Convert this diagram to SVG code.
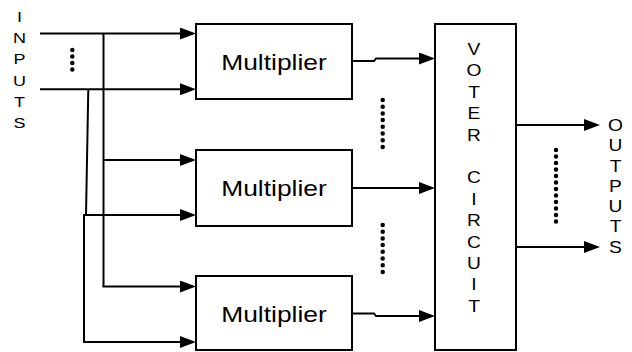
<svg xmlns="http://www.w3.org/2000/svg" width="632" height="352" viewBox="0 0 632 352">
  <defs>
    <style>
      .box { fill: #ffffff; stroke: #000000; stroke-width: 2; }
      .wire { fill: none; stroke: #000000; stroke-width: 2; }
      .arrow { fill: none; stroke: #000000; stroke-width: 2; marker-end: url(#head); }
      .dots { fill: none; stroke: #000000; stroke-width: 4.5; stroke-linecap: round; }
      .label { font-family: "Liberation Sans", Arial, sans-serif; fill: #000000; text-anchor: middle; }
      .big { font-size: 22px; }
      .small { font-size: 15px; }
      .mid { font-size: 16px; }
    </style>
    <marker id="head" viewBox="0 0 16 12" refX="2" refY="6" markerWidth="16" markerHeight="12" markerUnits="userSpaceOnUse" orient="auto">
      <path d="M0,0 L16,6 L0,12 Z" fill="#000000"/>
    </marker>
  </defs>

  <rect width="632" height="352" fill="#ffffff"/>

  <!-- input column label -->
  <g id="inputs-label" class="label small" transform="translate(19.5,0) scale(1.2,1)">
    <text x="0" y="21.8">I</text>
    <text x="0" y="43">N</text>
    <text x="0" y="64.2">P</text>
    <text x="0" y="85.6">U</text>
    <text x="0" y="106.9">T</text>
    <text x="0" y="128">S</text>
  </g>

  <!-- connectors -->
  <g id="connectors">
    <!-- primary inputs -->
    <path class="arrow" d="M40,33.5 H182"/>
    <path class="arrow" d="M40,89.3 H182"/>
    <!-- fan-out of the first input -->
    <path class="wire" d="M103.5,33.5 V286.5"/>
    <path class="arrow" d="M103.5,160 H182"/>
    <path class="arrow" d="M102.5,286.5 H182"/>
    <!-- fan-out of the last input -->
    <path class="wire" d="M88.3,89.3 L86,215"/>
    <path class="arrow" d="M84,215 H182"/>
    <path class="wire" d="M84,214 V342"/>
    <path class="arrow" d="M83,342 H182"/>
    <!-- multiplier outputs to voter -->
    <path class="arrow" d="M352,61 H374 L376,58.5 H421"/>
    <path class="arrow" d="M352,188 H421"/>
    <path class="arrow" d="M352,313.5 H374 L376,316 H421"/>
    <!-- voter outputs -->
    <path class="arrow" d="M516,125 H586"/>
    <path class="arrow" d="M516,247 H586"/>
  </g>

  <!-- ellipsis markers -->
  <path class="dots" d="M72.3,50 V69.6" stroke-dasharray="0 6.5"/>
  <path class="dots" d="M382.7,100 V147" stroke-dasharray="0 6.7"/>
  <path class="dots" d="M382.7,225 V272" stroke-dasharray="0 6.7"/>
  <path class="dots" d="M556,150 V221.6" stroke-dasharray="0 6.5"/>

  <!-- multipliers -->
  <g id="multiplier-1">
    <rect class="box" x="196" y="24" width="156" height="75"/>
    <text class="label big" transform="translate(274,69.5) scale(1.2,1)">Multiplier</text>
  </g>
  <g id="multiplier-2">
    <rect class="box" x="196" y="150" width="156" height="76"/>
    <text class="label big" transform="translate(274,196) scale(1.2,1)">Multiplier</text>
  </g>
  <g id="multiplier-3">
    <rect class="box" x="196" y="276" width="156" height="74"/>
    <text class="label big" transform="translate(274,321.5) scale(1.2,1)">Multiplier</text>
  </g>

  <!-- voter -->
  <g id="voter">
    <rect class="box" x="435" y="24" width="81" height="326"/>
    <g class="label mid" transform="translate(474,0) scale(1.2,1)">
      <text x="0" y="55">V</text>
      <text x="0" y="76.4">O</text>
      <text x="0" y="97.8">T</text>
      <text x="0" y="119.2">E</text>
      <text x="0" y="140.6">R</text>
      <text x="0" y="183.4">C</text>
      <text x="0" y="204.8">I</text>
      <text x="0" y="226.2">R</text>
      <text x="0" y="247.6">C</text>
      <text x="0" y="269">U</text>
      <text x="0" y="290.4">I</text>
      <text x="0" y="311.8">T</text>
    </g>
  </g>

  <!-- output column label -->
  <g id="outputs-label" class="label mid" transform="translate(615.5,0) scale(1.2,1)">
    <text x="0" y="131">O</text>
    <text x="0" y="151.3">U</text>
    <text x="0" y="171.6">T</text>
    <text x="0" y="191.9">P</text>
    <text x="0" y="212.2">U</text>
    <text x="0" y="232.5">T</text>
    <text x="0" y="252.8">S</text>
  </g>
</svg>
